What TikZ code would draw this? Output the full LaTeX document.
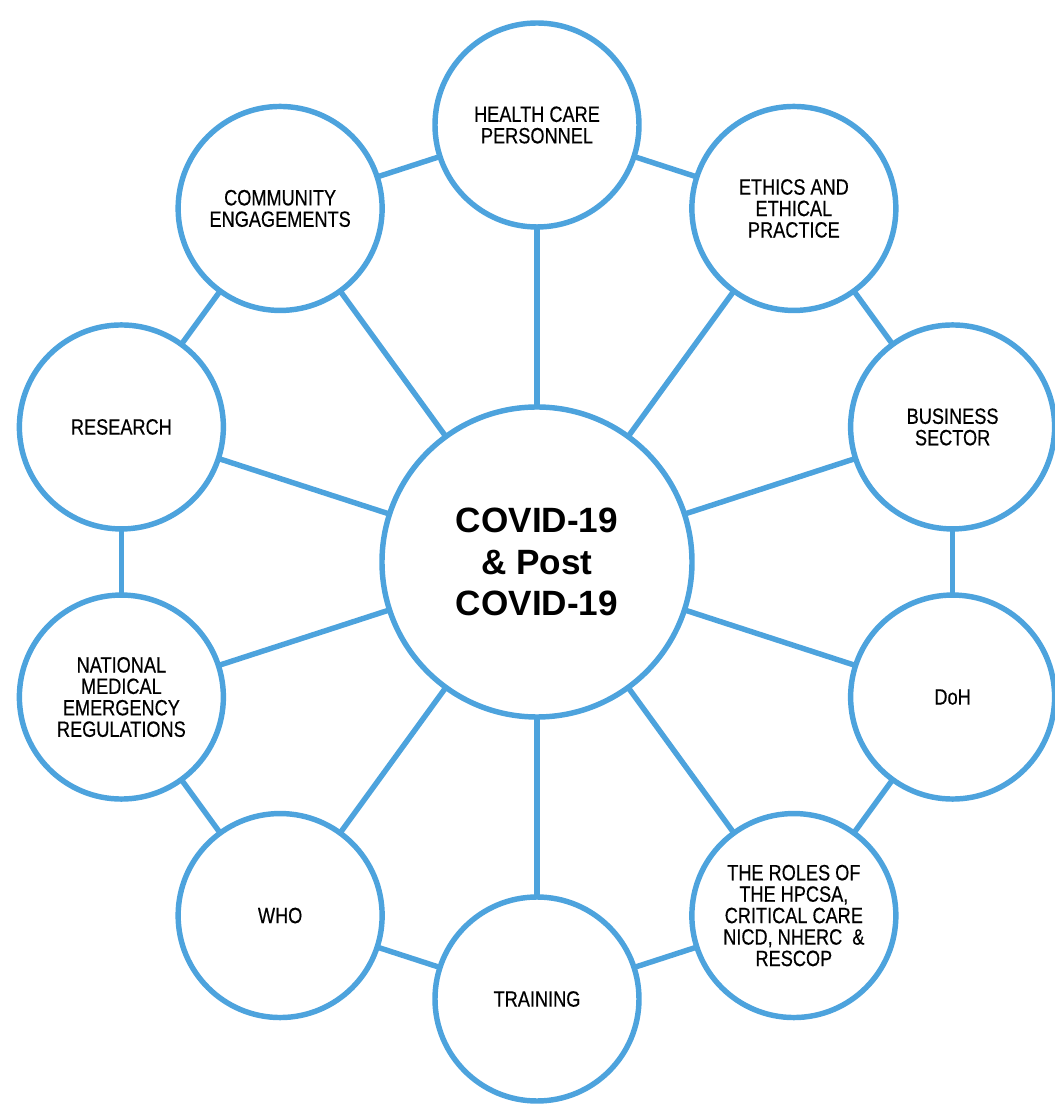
\documentclass[tikz,border=0pt]{standalone}
\usepackage{fontspec}
\setmainfont{Liberation Sans}
\newfontfamily\narrowfont{Liberation Sans}[FakeStretch=0.82, FakeBold=0.4]
\definecolor{ringBlue}{RGB}{77, 163, 221}
\usetikzlibrary{positioning}
\tikzset{
  hub/.style={circle, draw=#1, line width=3.1pt, fill=white, minimum size=6.2cm, inner sep=0pt, align=center, font=\fontsize{20pt}{23.8pt}\selectfont\bfseries},
  hub/.default=ringBlue,
  topic/.style={circle, draw=#1, line width=3.1pt, fill=white, minimum size=4.08cm, inner sep=0pt, align=center, font=\narrowfont\fontsize{12.6pt}{12.2pt}\selectfont},
  topic/.default=ringBlue,
  link/.style={line width=3.1pt, #1},
  link/.default=ringBlue,
}

\begin{document}
\begin{tikzpicture}
  \useasboundingbox (-10.74, -10.88) rectangle (10.34, 11.24);

  % connectors first, circles on top
  \path
    (90:8.74)  coordinate (p-hcp)
    (54:8.74)  coordinate (p-ethics)
    (18:8.74)  coordinate (p-business)
    (-18:8.74) coordinate (p-doh)
    (-54:8.74) coordinate (p-roles)
    (-90:8.74) coordinate (p-training)
    (234:8.74) coordinate (p-who)
    (198:8.74) coordinate (p-nmer)
    (162:8.74) coordinate (p-research)
    (126:8.74) coordinate (p-community);

  \foreach \a/\b in {hcp/ethics, ethics/business, business/doh, doh/roles, roles/training,
                     training/who, who/nmer, nmer/research, research/community, community/hcp}
    \draw[link] (p-\a) -- (p-\b);
  \foreach \a in {hcp, ethics, business, doh, roles, training, who, nmer, research, community}
    \draw[link] (0,0) -- (p-\a);

  \node[hub] (covid) at (0, 0) {COVID-19\\\& Post\\COVID-19};

  \node[topic] (hcp) at (p-hcp) {HEALTH CARE\\PERSONNEL};
  \node[topic] (ethics) at (p-ethics) {ETHICS AND\\ETHICAL\\PRACTICE};
  \node[topic] (business) at (p-business) {BUSINESS\\SECTOR};
  \node[topic] (doh) at (p-doh) {DoH};
  \node[topic] (roles) at (p-roles) {THE ROLES OF\\THE HPCSA,\\CRITICAL CARE\\NICD, NHERC \ \&\\RESCOP};
  \node[topic] (training) at (p-training) {TRAINING};
  \node[topic] (who) at (p-who) {WHO};
  \node[topic] (nmer) at (p-nmer) {NATIONAL\\MEDICAL\\EMERGENCY\\REGULATIONS};
  \node[topic] (research) at (p-research) {RESEARCH};
  \node[topic] (community) at (p-community) {COMMUNITY\\ENGAGEMENTS};
\end{tikzpicture}
\end{document}
